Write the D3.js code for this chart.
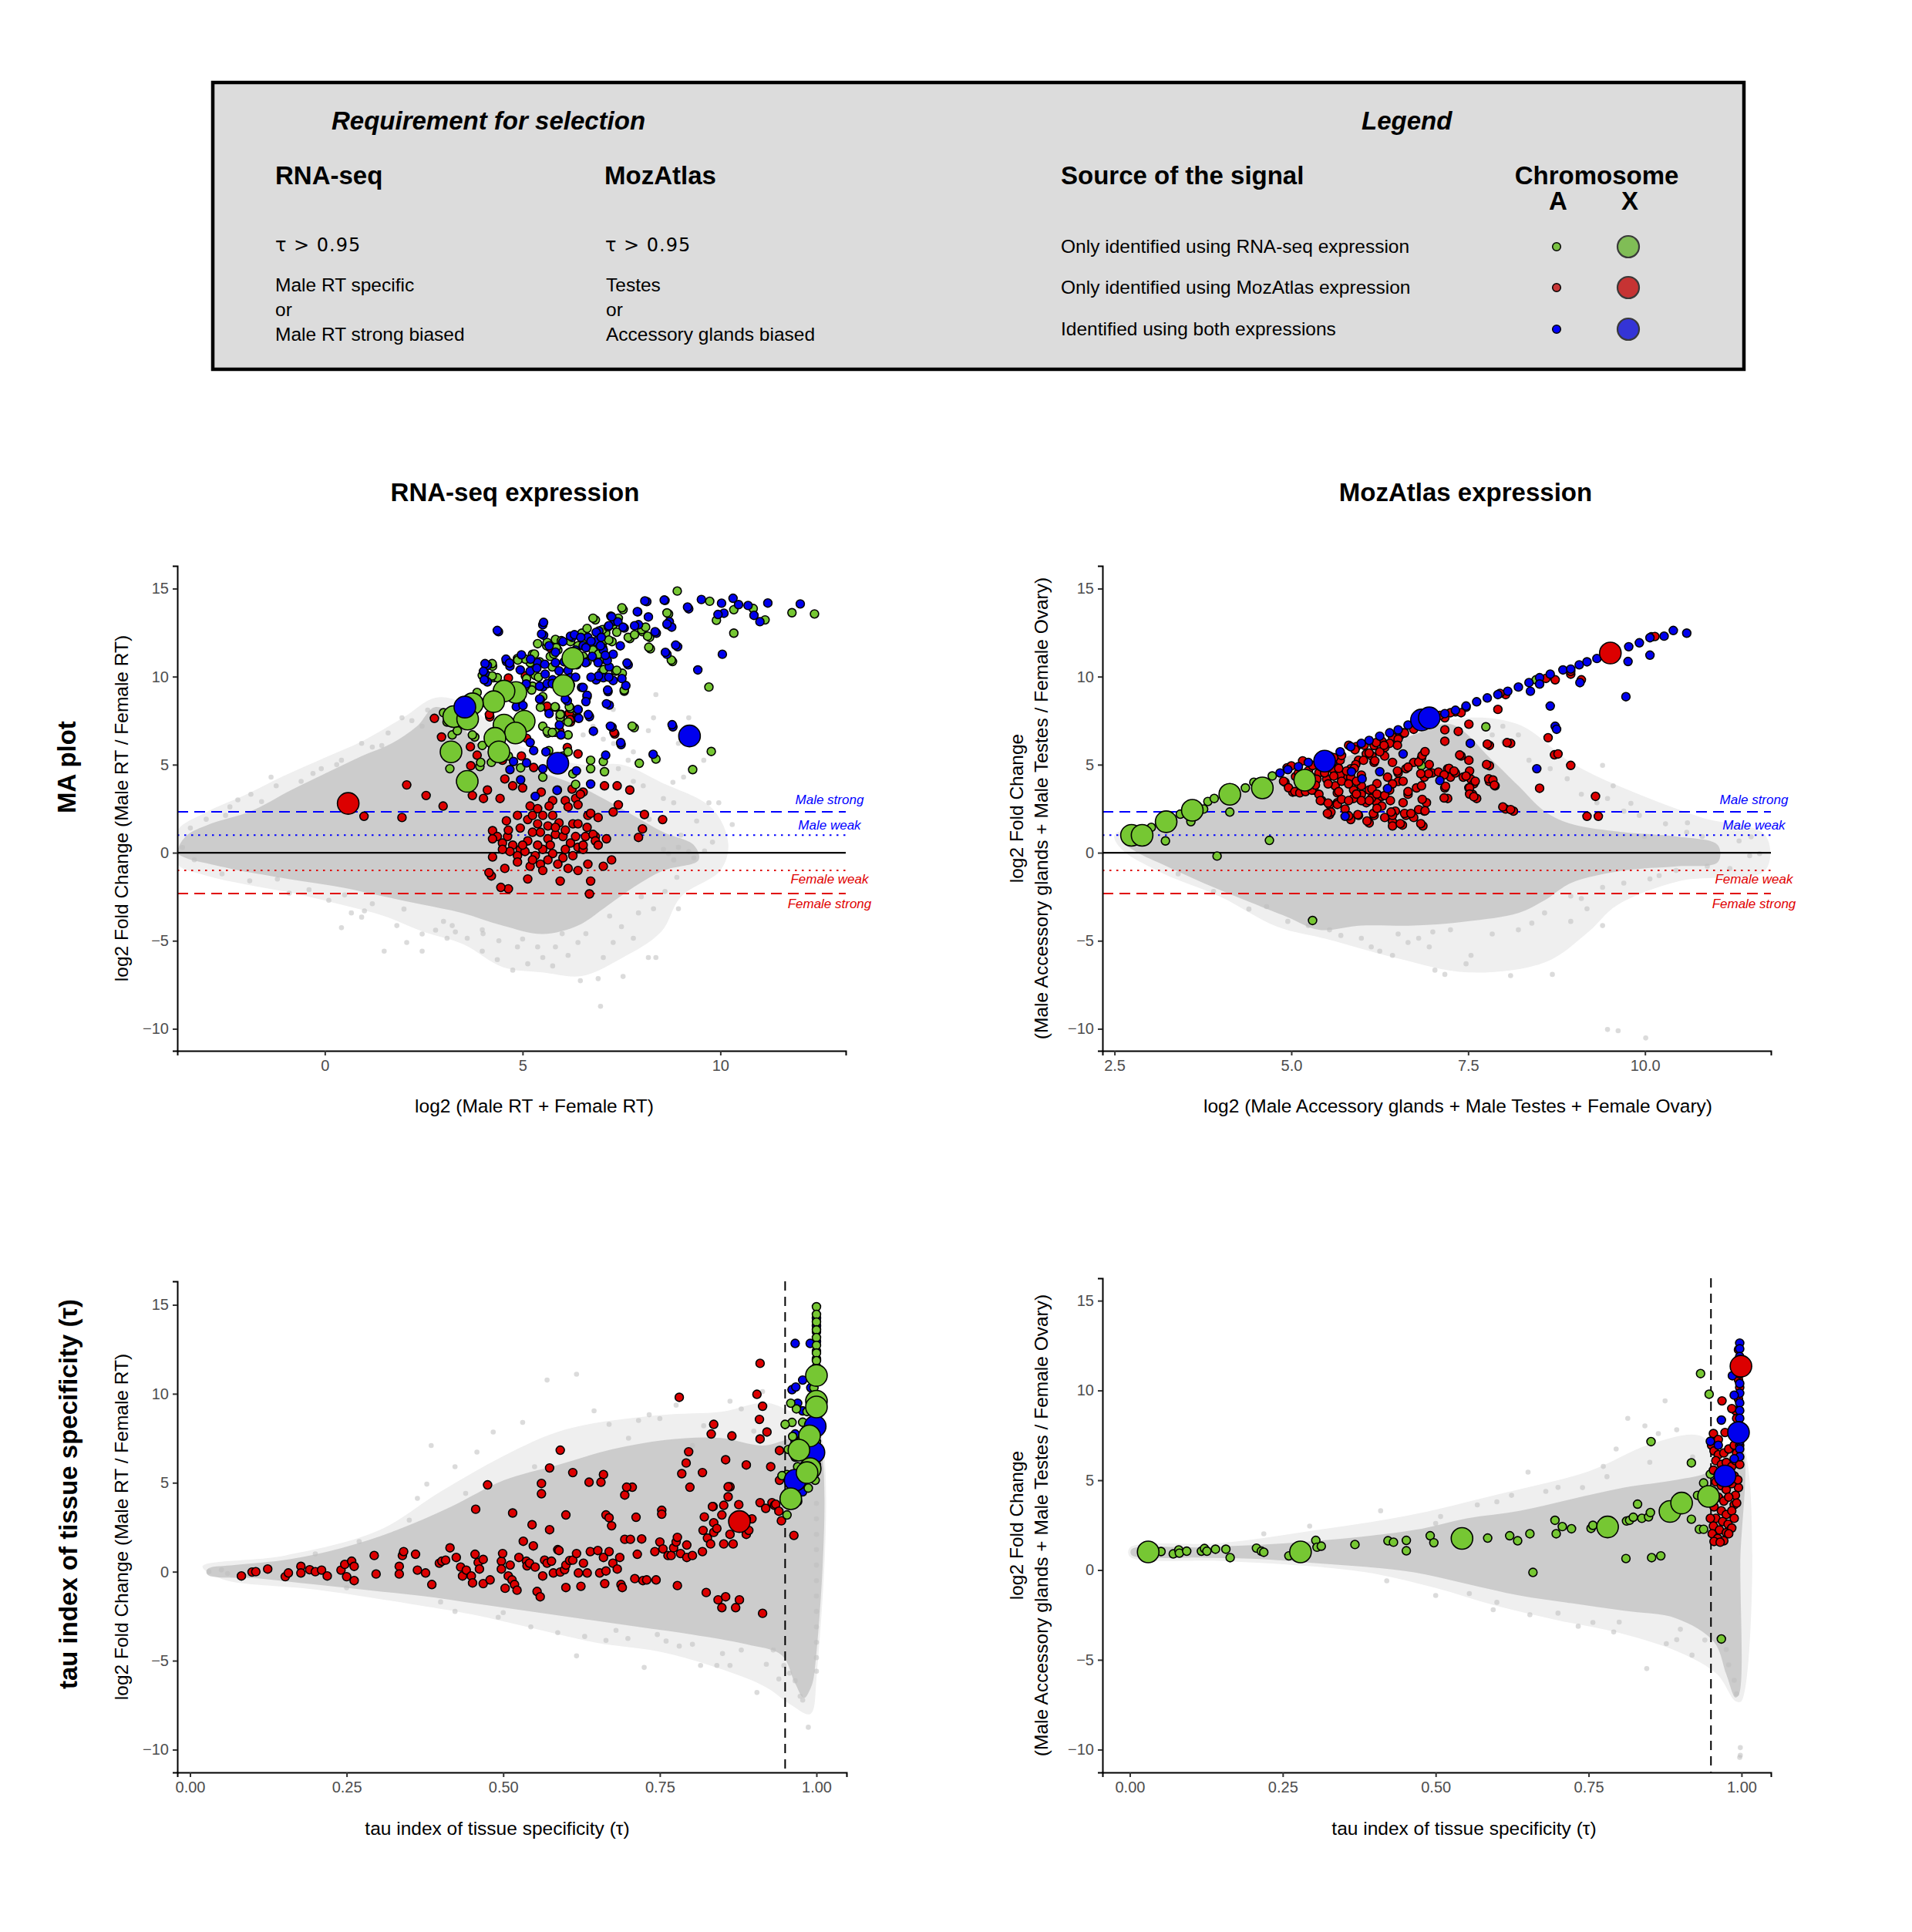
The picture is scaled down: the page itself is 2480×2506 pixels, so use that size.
<!DOCTYPE html>
<html><head><meta charset="utf-8">
<script src="https://cdn.jsdelivr.net/npm/d3@7"></script>
<style>body{margin:0;background:#fff} text{font-family:"Liberation Sans",Arial,Helvetica,sans-serif}</style>
</head><body><svg id="c" width="2480" height="2506"></svg>
<script>
// ---------------- DATA ----------------
const maXTicksRNA = [0,5,10];
const maXTicksMoz = [2.5,5.0,7.5,10.0];
const yTicks = [-10,-5,0,5,10,15];
const tauTicks = [0,0.25,0.5,0.75,1.0];
const biasLines = [
  {v:Math.log2(5), label:"Male strong", color:"#0000ff", dash:"14,8", ly:3.0},
  {v:1, label:"Male weak", color:"#0000ff", dash:"2.5,6.5", ly:1.59},
  {v:-1, label:"Female weak", color:"#e00000", dash:"2.5,6.5", ly:-1.49},
  {v:-Math.log2(5), label:"Female strong", color:"#e00000", dash:"14,8", ly:-2.89}
];
const tauThreshold = 0.95;
const sourceLabels = ["Only identified using RNA-seq expression","Only identified using MozAtlas expression","Identified using both expressions"];

// Panel 1 : MA plot, RNA-seq
const rnaHalo = [[-3.75,-0.6],[-3.75,1.2],[-3.0,2.3],[-2.0,3.3],[-1.0,4.4],[0.0,5.4],[1.0,6.4],[2.0,7.7],[2.8,8.8],[3.5,8.5],[5,6],[6.5,5],[7.5,5],[8.5,4],[9.8,2.5],[10.2,0.5],[10,-1],[9,-2.5],[8.5,-4.5],[7.5,-6],[6.5,-7],[5.5,-6.8],[4.5,-6.5],[3.5,-5.2],[2.5,-4.5],[1.5,-3.6],[0.5,-3.0],[-0.8,-2.3],[-2.0,-1.8],[-3.0,-1.3]];
const rnaCloud = [[-3.72,0],[-3.52,0.92],[-2.89,1.64],[-1.87,2.36],[-0.85,3.56],[0.04,4.53],[0.93,5.49],[1.69,6.21],[2.33,7.18],[2.77,8.26],[3.22,7.9],[3.73,6.45],[4.49,5.25],[5.51,4.53],[6.4,3.8],[7.04,3.08],[7.8,2.12],[8.56,1.16],[9.33,0.43],[9.45,-0.41],[8.56,-1.01],[7.8,-1.97],[7.04,-3.18],[6.4,-4.14],[5.51,-4.62],[4.49,-4.14],[3.47,-3.42],[2.46,-2.94],[1.44,-2.46],[0.42,-1.97],[-0.6,-1.61],[-1.87,-1.13],[-2.89,-0.65],[-3.52,-0.29]];
const rnaGrey = [[0.42,-4.26],[1.5,-5.59],[2.07,-5.1],[2.46,-4.62],[3.22,-4.14],[3.6,-4.86],[3.98,-5.59],[4.36,-6.07],[4.75,-6.67],[5.13,-6.31],[5.51,-5.95],[5.76,-6.43],[6.15,-5.83],[6.46,-7.27],[6.91,-7.15],[7.04,-5.95],[7.54,-7.03],[7.29,-5.1],[7.8,-4.86],[8.18,-5.95],[8.37,-5.95],[8.31,-3.18],[8.94,-3.18],[6.97,-8.72],[5.38,-5.35],[4.87,-5.35],[3.98,-4.38],[3.09,-4.86],[2.46,-5.59],[1.82,-4.14],[0.93,-3.66],[0.67,-3.42],[7.93,-3.42],[6.4,-5.1],[5.83,-5.35],
 [8.37,8.98],[8.31,7.66],[9.2,7.66],[8.18,6.93],[8.94,6.21],[7.8,5.73],[9.58,5.25],[9.07,4.29],[8.05,3.8],[8.56,3.08],[8.82,2.84],[9.71,2.84],[9.96,2.84],[7.42,4.77],[7.8,4.05],[7.04,6.45],[7.67,5.25],[8.44,5.25],[6.53,6.69],[6.78,7.18],[7.29,8.14],[1.95,7.66],[2.46,7.18],[1.44,6.09],[0.93,6.21],[0.42,5.25],[-0.09,4.77],[-0.6,4.05],[-1.23,3.8],[-1.87,3.32],[-2.51,2.12],[-1.36,4.29],
 [8.56,0.19],[8.94,0.31],[9.2,0.07],[9.33,-0.29],[8.82,-0.41],[8.69,-0.05],
 [-3.6,0.3],[-3.3,-0.4],[-3.0,1.9],[-2.4,2.6],[-1.6,2.9],[-1.2,-1.5],[-0.4,-2.1],[0.5,-2.4],[1.2,-2.9],[2.0,-3.2],[3.0,-3.9],[4.0,-4.6],[5.0,-4.9],[6.0,-4.6],[7.2,-3.6],[8.0,-2.5],[8.9,-1.4],[9.6,0.1],[9.0,1.0],[8.2,1.9],[1.2,6.0],[2.2,7.5],[2.6,8.1],[0.3,5.0],
 [-2.6,-1.2],[-1.9,-1.6],[-0.9,-2.3],[0.1,-2.7],[1.0,-3.3],[2.8,-4.4],[4.4,-5.0],[6.6,-4.6],[7.5,-4.2],[8.6,-2.2],[9.8,0.6],[10.3,1.6],[9.4,1.8],[8.8,4.0],[7.3,6.2],[-2.2,3.0],[-0.3,4.5],[1.6,6.8],[-3.4,1.4],[3.3,-4.5]];
const rnaRed = [[2.77,7.63],[2.95,6.57],[3.68,6.02],[3.69,4.94],[4.11,3.56],[4.01,3.08],[3.73,3.25],[3.85,5.54],[4.17,7.71],[4.49,5.25],[4.55,4.19],[4.75,3.8],[5.0,3.68],[4.97,5.49],[5.1,6.5],[5.28,4.84],[5.47,3.44],[5.88,3.56],[6.13,5.97],[6.21,7.42],[6.27,7.66],[6.4,5.61],[7.33,6.74],[7.39,3.8],[7.07,3.8],[7.71,3.56],[6.25,3.61],[6.53,3.44],[6.34,3.08],[5.64,8.19],[5.1,9.58],[5.7,11.63],[2.07,3.85],[2.56,3.25],[2.99,2.65],[1.95,2.0],[0.99,2.07],[4.43,3.08],
 [5.19,2.65],[5.38,2.5],[5.76,2.96],[6.08,2.96],[6.46,3.32],[6.15,2.6],[6.4,2.72],[6.65,2.12],[6.91,2.0],[7.42,2.72],[7.29,2.31],[8.08,2.17],[8.54,1.88],[8.03,1.35],[7.93,0.87],[7.12,0.79],[6.84,0.92],[6.63,1.44],[6.27,1.64],[5.92,1.69],[5.64,1.52],[5.38,1.64],[5.13,1.88],[4.87,2.12],[4.59,1.81],[4.24,1.25],[4.36,0.92],[4.49,0.55],[4.62,0.92],[4.75,0.43],[4.94,0.19],[5.13,0.67],[5.25,1.16],[5.45,1.16],[5.64,0.79],[5.83,1.04],[6.02,0.92],[6.21,0.55],[6.4,0.31],[6.59,0.92],[6.78,1.04],[6.53,0.19],[6.27,-0.17],[6.02,-0.29],[5.76,-0.05],[5.51,0.19],[5.32,-0.17],[5.06,0.07],[4.87,-0.17],[4.68,0.07],[4.49,0.19],[4.24,-0.24],[4.55,-0.89],[4.87,-0.53],[5.19,-0.77],[5.45,-0.65],[5.64,-0.41],[5.89,-0.65],[6.15,-0.89],[6.4,-1.01],[6.65,-0.65],[7.04,-0.77],[7.25,-0.41],[6.72,-1.61],[5.95,-1.61],[5.13,-1.49],[4.64,-2.05],[4.45,-1.97],[4.21,-1.32],[4.15,-1.13],[5.51,-1.01],[5.25,-0.41],[5.0,0.43],[5.38,0.43],[5.7,0.43],[6.08,0.19],[6.34,0.92],[6.53,0.43],[6.84,0.67],[4.24,0.79],[6.69,-2.34],[6.4,1.64],[6.72,2.24],[5.76,2.12],[5.51,2.12],[5.25,2.12],[4.94,1.4],[4.64,1.28],[5.67,2.65],[5.83,1.44],[6.08,1.28],[6.91,0.43],
 [5.69,11.79],[5.07,10.04],[4.64,9.92],[5.62,8.32],[5.98,7.85],[6.18,7.92],[6.2,7.56],[5.94,6.9],[7.31,6.83],[4.16,7.85]];
const rnaGreen = [[8.91,14.86],[9.73,14.28],[10.34,13.8],[10.83,13.87],[11.13,13.22],[11.81,13.63],[12.38,13.56],[9.9,13.2],[10.34,12.47],[9.71,9.41],[9.77,5.75],[9.3,4.72],[8.37,5.32],[7.95,5.08],[7.82,7.1],[7.04,5.18],[7.07,4.6],[6.72,5.25],[6.34,3.88],[6.72,4.77],[6.27,4.48],[6.02,5.49],[5.66,5.8],[5.51,4.29],[5.64,6.79],[5.83,6.84],[6.15,7.42],[8.69,13.56],[8.66,12.95],[8.79,10.86],[8.23,11.58],[8.21,12.23],[8.03,12.55],[7.71,12.16],[7.54,13.8],[7.42,13.32],[7.29,12.95],[7.1,12.47],[7.26,11.99],[7.07,10.98],[7.35,10.31],[7.57,9.17],[7.52,10.19],[6.84,13.22],[7.04,11.99],[7.0,10.26],[6.86,11.03],[6.78,11.51],[6.53,11.15],[6.5,12.47],[6.21,11.99],[5.89,11.51],[5.61,11.75],[5.7,11.15],[5.25,11.27],[5.19,10.79],[5.32,10.07],[5.25,9.46],[5.51,8.86],[5.45,8.26],[5.83,8.26],[6.21,8.19],[6.15,6.69],[6.15,5.73],[4.24,10.59],[4.26,9.94],[3.98,10.07],[3.85,9.1],[4.36,9.94],[3.79,6.57],[3.98,6.09],[4.21,5.13],[3.92,4.89],[3.47,3.8],[3.16,4.77],[3.09,5.49],[3.0,7.95],[3.09,7.42],[3.22,6.69],[3.35,6.93],[3.73,6.69],[3.94,5.13],[4.64,5.49],[4.95,4.82],[5.51,7.18],[6.4,7.66],[5.95,7.66],[4.87,11.03],[5.38,11.87],[5.83,12.11],[6.4,11.75],[6.53,12.11],
 [7.51,13.91],[6.78,13.32],[6.63,12.74],[7.02,12.67],[7.38,12.52],[7.18,12.08],[7.02,11.65],[6.92,11.28],[6.63,10.84],[7.05,10.4],[7.38,10.36],[7.57,9.24],[7.67,12.23],[7.83,12.38],[8.01,12.67],[8.11,12.81],[8.16,12.3],[8.19,11.67],[8.65,13.62],[8.76,10.94],[5.98,12.04],[5.85,11.65],[5.79,11.28],[5.62,11.94],[5.3,11.28],[5.07,10.99],[4.88,10.94],[4.23,10.74],[4.23,10.04],[5.43,10.84],[5.75,10.55],[5.23,9.24],[5.07,9.46],[5.1,9.89],[5.4,9.97],[6.21,9.53],[6.18,8.29],[5.82,8.29],[5.95,7.85],[5.62,6.9],[5.75,6.83],[7.77,7.19]];
const rnaBlue = [[9.52,14.38],[10.03,14.17],[10.32,14.45],[10.7,14.04],[11.2,14.18],[12.02,14.13],[10.46,14.09],[10.09,13.6],[9.94,13.53],[10.85,13.48],[11.0,13.12],[9.2,13.85],[8.6,14.33],[8.14,14.26],[7.91,13.68],[8.71,13.12],[8.77,12.81],[8.38,12.47],[10.05,11.27],[9.43,10.38],[8.92,11.7],[8.65,11.27],[8.8,7.15],[7.49,6.14],[8.3,5.59],[7.26,7.13],[7.19,8.38],[7.16,9.15],[6.69,7.73],[6.63,8.86],[6.4,8.11],[6.42,7.63],[5.93,7.25],[5.97,6.69],[5.28,5.8],[5.59,5.73],[5.51,4.77],[4.77,5.18],[4.68,4.72],[5.1,5.1],[4.95,4.14],[5.32,3.2],[5.87,3.54],[6.72,3.9],[6.36,4.65],[7.1,5.54],[5.19,6.26],[5.67,7.9],[6.13,8.62],[6.49,9.39],[6.86,9.82],[7.04,9.94],[7.29,9.78],[7.61,9.49],[7.19,10.55],[7.67,10.67],[7.47,11.75],[7.29,11.27],[7.04,11.51],[6.84,11.99],[6.65,12.23],[6.93,12.59],[7.16,12.83],[7.32,13.15],[7.23,13.44],[7.57,12.76],[7.93,12.95],[8.18,13.39],[6.53,11.75],[6.34,11.51],[6.25,12.23],[6.02,11.99],[5.83,10.79],[5.51,12.95],[5.53,12.35],[5.67,11.75],[5.38,10.79],[5.19,10.31],[4.94,10.38],[4.68,10.59],[4.59,10.86],[4.11,10.64],[4.05,10.19],[4.11,9.7],[4.94,8.69],[5.45,8.69],[5.09,9.58],[5.51,9.41],[5.76,9.82],[6.15,10.35],[5.83,11.39],[4.39,12.55],[5.57,10.14],[6.21,9.94],[6.37,10.67],[6.59,10.79],[6.91,10.79],[7.14,10.91],[6.76,11.15],[6.97,11.75],
 [4.36,12.62],[5.53,13.08],[5.48,12.42],[4.05,10.74],[4.01,10.3],[4.03,9.82],[4.58,10.99],[4.67,10.77],[4.97,11.24],[5.2,10.99],[5.36,10.48],[5.56,10.7],[5.43,9.46],[5.62,9.6],[5.75,9.6],[5.92,10.33],[6.05,10.84],[6.21,12.3],[6.31,12.38],[6.47,12.23],[6.6,11.65],[6.73,12.01],[6.86,12.52],[6.99,12.23],[7.09,11.21],[7.18,12.89],[7.25,13.4],[7.41,13.11],[7.54,12.81],[7.9,13.69],[8.09,14.3],[8.58,14.35],[8.87,11.79],[8.61,11.38],[9.17,13.95],[8.65,12.99],[8.35,12.55],[7.83,12.89],[7.64,10.77],[7.51,9.89],[7.18,9.97],[6.92,10.04],[6.73,9.97],[6.53,9.38],[6.63,8.94],[6.6,8.58],[7.15,9.24],[7.12,8.46],[6.4,8.14],[6.08,8.73],[5.43,8.73],[4.84,8.29],[5.01,8.36],[6.66,7.85],[6.79,6.9],[7.22,7.19],[7.48,6.25],[8.78,7.27],[6.34,9.97]];
const rnaRedX = [[0.59,2.8]];
const rnaGreenX = [[6.27,11.04],[6.03,9.49],[4.83,9.1],[4.53,9.18],[4.27,8.58],[3.73,8.46],[3.26,7.73],[3.61,7.59],[5.04,7.47],[4.53,7.25],[4.82,6.8],[4.3,6.5],[4.4,5.73],[3.19,5.73],[3.6,4.05]];
const rnaBlueX = [[9.22,6.63],[5.89,5.08],[3.54,8.27]];

// Panel 2 : MA plot, MozAtlas
const mozHalo = [[2.5,1.0],[3.0,1.6],[4.5,4.0],[6,6],[7.3,7.6],[8.2,7.3],[9,5],[9.8,3.5],[10.8,2.0],[11.7,1.0],[11.7,-1.0],[10.5,-1.6],[9.6,-3],[9.2,-4.5],[8.6,-6.2],[7.5,-6.8],[6.5,-6],[5.5,-4.9],[4.8,-4.2],[4.0,-2.5],[3.2,-1.2],[2.6,0.2]];
const mozCloud = [[2.61,0.67],[3.02,1.4],[3.76,2.6],[4.5,3.8],[5.24,4.77],[5.99,5.73],[6.73,6.69],[7.25,7.3],[7.84,5.25],[8.21,3.8],[8.58,2.36],[8.95,1.64],[9.7,1.16],[10.44,0.92],[11.03,0.43],[11.03,-0.53],[10.44,-0.77],[9.7,-1.01],[8.95,-1.73],[8.58,-2.7],[8.21,-3.42],[7.47,-3.9],[6.73,-4.14],[5.99,-4.14],[5.39,-4.38],[4.95,-3.66],[4.35,-2.7],[3.76,-1.73],[3.24,-0.77],[2.8,0.07]];
const mozGrey = [[9.4,4.96],[9.55,3.8],[9.32,2.84],[9.7,2.36],[9.92,2.12],[10.29,1.64],[10.59,1.16],[10.81,0.92],[11.33,0.67],[11.48,-0.17],[11.62,-0.05],[9.99,0.92],[9.47,3.08],[9.1,3.32],[8.66,4.77],[8.36,5.25],[8.21,6.69],[7.99,7.18],[7.84,6.69],
 [6.13,-5.35],[6.25,-5.59],[6.43,-5.83],[6.65,-5.1],[6.95,-5.35],[7.03,-6.67],[7.17,-6.91],[7.47,-6.31],[7.54,-5.83],[8.1,-6.98],[8.69,-6.91],[9.4,-4.14],[9.47,-10.04],[9.62,-10.11],[10.01,-10.52],[9.4,-1.97],[9.18,-3.18],[9.7,-1.73],[8.95,-2.46],[5.54,-4.38],[5.24,-4.14],[4.95,-3.9],[4.65,-3.06],[5.99,-4.86],[6.51,-4.62],[6.8,-4.86],[7.25,-4.38],[7.84,-4.62],[8.21,-4.38],[8.58,-3.42],[8.95,-3.9],[10.07,-1.49],[10.44,-1.01],[10.88,-0.77],
 [3.4,-1.2],[3.9,-2.2],[4.4,-3.2],[5.7,-4.7],[7.0,-4.5],[8.4,-4.0],[9.1,-2.6],[10.2,-1.3],[11.2,-0.9],[11.5,0.9],[10.6,1.7],[9.8,2.8],[8.9,4.2],[8.0,6.3]];
const mozRed = [[4.95,4.77],[5.06,4.33],[5.17,4.09],[5.28,4.29],[5.39,4.53],[5.5,4.17],[5.62,3.8],[5.73,4.29],[5.84,4.77],[5.95,5.25],[6.06,5.61],[6.17,6.09],[6.28,6.33],[6.43,6.57],[6.54,6.69],[4.91,4.0],[5.02,3.44],[5.17,3.52],[5.32,3.56],[5.43,2.96],[5.54,2.72],[5.65,2.84],[5.76,2.48],[5.88,3.08],[5.99,3.32],[6.1,3.56],[6.21,3.92],[6.36,4.29],[6.51,4.53],[6.62,4.77],[6.73,5.13],[6.84,5.37],[6.95,5.01],[6.99,4.53],[6.88,4.29],[6.77,3.68],[6.65,3.32],[6.58,2.84],[6.47,2.36],[6.43,1.76],[6.32,2.0],[6.21,2.84],[6.06,2.84],[5.95,2.12],[5.84,1.88],[6.1,1.69],[6.17,2.12],[5.54,2.17],[5.65,3.4],[5.69,4.41],[5.99,4.41],[6.17,5.13],[6.32,5.49],[6.43,5.13],[6.51,4.05],[6.39,3.56],[6.28,3.2],[6.13,3.08],[5.99,3.8],[5.88,3.56],[5.84,4.29],[5.58,4.77],[5.36,5.01],[5.24,3.8],[5.39,3.32],[6.84,3.8],[6.91,2.84],[6.88,2.36],[6.73,2.0],[6.62,2.12],[6.43,2.12],[6.28,2.65],[6.86,1.52],[6.57,1.57],[6.43,1.52],[7.08,4.58],[7.21,4.77],[7.25,4.29],[7.17,3.68],[7.21,3.08],[7.32,4.53],[7.43,4.29],[7.54,4.17],[7.51,3.68],[7.56,3.32],[7.62,3.08],[7.58,3.92],[7.8,4.05],[7.88,3.8],[7.8,4.94],[7.8,6.09],[8.1,6.21],[7.92,8.14],[7.51,7.3],[7.36,6.89],[7.17,6.33],[7.17,7.66],[7.4,5.49],[7.17,6.98],[7.32,8.0],[7.1,7.8],[8.63,6.53],[8.72,5.56],[8.77,5.61],[8.95,4.96],[9.3,3.2],[9.18,2.07],[9.34,2.07],[8.03,2.48],[8.14,2.36],[8.51,3.66],[7.51,5.25],[8.73,9.82],[9.1,9.82],[8.95,10.14],[10.09,12.26],[10.14,12.28],[8.03,8.98],[7.95,9.05],[7.47,8.26],[7.25,7.95],[7.03,7.66],[6.84,7.25],[6.73,7.01],[6.58,6.81],[6.51,6.45],[6.39,6.21],[6.32,5.97],[6.25,5.73],[6.14,5.49],[6.02,5.25],[5.91,5.01],[5.69,5.25],[5.58,5.13],[5.47,4.53],[5.36,4.17],[5.24,4.65],[5.1,4.53],
 [4.94,4.82],[4.89,4.06],[4.96,3.69],[5.05,3.47],[5.12,3.4],[5.2,3.47],[5.29,3.55],[5.34,3.84],[5.41,2.96],[5.52,2.82],[5.65,2.74],[5.56,2.31],[5.71,3.03],[5.81,2.96],[5.92,3.33],[5.99,2.96],[6.1,2.96],[6.14,3.62],[6.21,3.33],[6.18,5.22],[6.1,5.66],[6.03,6.1],[5.92,6.03],[5.81,6.1],[5.71,5.52],[5.6,4.35],[5.71,4.06],[5.81,3.91],[5.92,4.06],[5.89,4.79],[5.78,4.64],[5.67,4.79],[5.52,3.91],[5.67,3.47],[6.32,3.25],[6.4,2.96],[6.41,2.31],[6.54,1.65],[6.6,2.23],[6.69,2.23],[6.8,2.45],[6.89,2.38],[6.83,1.65],[6.85,3.03],[6.65,3.47],[6.58,4.06],[6.43,3.91],[6.5,4.64],[6.65,4.86],[6.8,5.15],[6.85,5.52],[6.89,5.74],[6.94,4.49],[6.83,4.49],[7.23,4.79],[7.16,4.42],[7.18,3.77],[7.16,3.11],[7.3,4.64],[7.38,5.55],[7.52,4.64],[7.47,4.35],[7.6,4.06],[7.52,3.69],[7.52,3.33],[7.58,3.18],[7.79,4.2],[7.85,4.13],[7.87,3.84],[7.76,5.01],[7.99,2.6],[8.1,2.45],[7.77,6.17],[8.05,6.25],[5.51,2.23],[5.81,2.09],[6.07,1.8],[6.16,2.23],[5.94,2.16],[6.21,2.52],[6.31,6.1],[6.5,6.1],[5.45,5.15],[5.16,5.22],[5.0,4.93],
 [5.3,4.95],[5.6,5.4],[5.9,5.85],[6.2,6.25],[6.6,6.8],[7.0,7.4],[7.4,7.95],[8.6,9.9],[8.95,10.3]];
const mozGreen = [[3.02,1.44],[3.24,1.69],[3.43,2.19],[3.58,1.76],[3.76,2.48],[3.82,2.91],[3.91,3.08],[4.13,2.31],[4.35,3.68],[4.47,4.0],[4.73,4.36],[3.22,0.67],[4.69,0.7],[3.95,-0.19],[5.3,-3.85],[7.75,7.15],[8.46,9.82],[6.84,4.94]];
const mozBlue = [[4.84,4.53],[4.95,4.72],[5.1,4.89],[5.24,5.13],[5.54,5.49],[5.69,5.73],[5.84,6.02],[5.99,6.21],[6.1,6.38],[6.25,6.62],[6.39,6.81],[6.51,6.98],[6.65,7.25],[6.8,7.46],[7.03,7.71],[7.17,7.9],[7.32,8.09],[7.47,8.33],[7.62,8.57],[7.77,8.79],[7.92,8.98],[8.06,9.17],[8.21,9.41],[8.36,9.66],[8.51,9.94],[8.66,10.14],[8.84,10.38],[8.95,10.43],[9.07,10.67],[9.18,10.84],[9.32,11.03],[9.55,11.39],[9.77,11.7],[9.92,11.92],[10.07,12.21],[10.27,12.3],[10.4,12.62],[10.59,12.47],[8.51,9.58],[8.38,9.17],[9.08,9.66],[8.66,8.33],[8.73,7.18],[8.75,7.01],[9.73,8.86],[10.07,11.22],[9.76,10.86],[7.53,6.21],[6.58,5.61],[6.36,3.64],[8.47,4.77],[5.76,2.07],[5.85,4.6],[6.0,4.2],[6.25,4.6],[7.1,4.1]];
const mozRedX = [[9.51,11.34]];
const mozGreenX = [[2.74,0.99],[2.89,0.99],[3.23,1.76],[3.6,2.41],[4.13,3.32],[4.59,3.68],[5.19,4.12]];
const mozBlueX = [[5.47,5.2],[6.84,7.54],[6.95,7.66]];

// Panel 3 : tau vs log2FC, RNA-seq
const tauRnaHalo = [[0.02,0.3],[0.15,0.9],[0.3,2.3],[0.4,4.5],[0.5,6.5],[0.6,8.0],[0.75,8.8],[0.85,9.0],[0.92,9.5],[0.96,9.0],[1.0,8.5],[1.0,-6],[0.99,-8],[0.96,-7.5],[0.92,-6.5],[0.85,-5.5],[0.75,-4.5],[0.65,-4.0],[0.55,-3.2],[0.45,-2.4],[0.35,-1.8],[0.2,-1.0],[0.05,-0.4]];
const tauRnaCloud = [[0.028,0.15],[0.071,0.37],[0.157,0.69],[0.243,1.34],[0.329,2.32],[0.415,3.62],[0.501,5.14],[0.587,6.0],[0.673,6.87],[0.759,7.41],[0.845,7.52],[0.914,7.09],[0.95,7.4],[0.997,8.0],[0.997,-5.6],[0.99,-6.6],[0.98,-7.1],[0.965,-6.2],[0.945,-4.7],[0.888,-4.08],[0.802,-3.53],[0.716,-3.1],[0.63,-2.67],[0.544,-2.23],[0.458,-1.8],[0.372,-1.37],[0.286,-1.04],[0.2,-0.72],[0.114,-0.39],[0.028,-0.17]];
const tauRnaGrey = [[0.385,7.09],[0.484,7.85],[0.531,8.39],[0.57,10.77],[0.617,11.1],[0.645,9.04],[0.669,8.28],[0.716,8.5],[0.733,8.82],[0.75,8.61],[0.776,9.36],[0.862,9.58],[0.88,9.15],[0.914,10.12],[0.802,7.09],[0.458,6.72],[0.423,5.9],[0.378,4.92],[0.363,4.12],
 [0.617,-4.73],[0.63,-3.64],[0.664,-3.86],[0.699,-3.75],[0.725,-5.38],[0.746,-3.53],[0.781,-4.18],[0.802,-4.08],[0.815,-5.27],[0.841,-5.27],[0.862,-5.27],[0.905,-6.79],[0.94,-6.03],[0.966,-6.13],[0.974,-7.0],[0.978,-7.22],[0.987,-8.74],[0.957,-5.7],[0.948,-5.27],[0.931,-4.4],[0.88,-4.4],[0.544,-3.1],[0.587,-3.43],[0.492,-2.56],[0.423,-2.23],
 [1.0,3.84],[1.0,2.97],[1.0,2.1],[1.0,1.24],[1.0,0.37],[1.0,-0.5],[1.0,-1.37],[1.0,-2.23],[1.0,-3.1],[1.0,-3.97],[1.0,-4.83],[1.0,-5.59],[0.03,0.0],[0.05,0.1],[0.06,-0.1],
 [0.2,1.0],[0.27,1.7],[0.35,2.9],[0.44,4.4],[0.55,5.9],[0.7,7.5],[0.82,8.2],[0.9,7.9],[0.25,-0.9],[0.4,-1.7],[0.5,-2.3],[0.68,-3.3],[0.76,-3.9],[0.85,-4.6],[0.92,-5.2]];
const tauRnaRed = [[0.082,-0.24],[0.099,-0.02],[0.105,0],[0.124,0.15],[0.152,-0.28],[0.157,-0.07],[0.177,0.3],[0.177,-0.07],[0.191,0.11],[0.2,0],[0.21,0.09],[0.219,-0.24],[0.241,0.09],[0.247,0.41],[0.25,-0.28],[0.258,0.59],[0.262,0.3],[0.262,-0.5],[0.294,0.91],[0.297,-0.13],[0.334,0.3],[0.334,-0.13],[0.339,0.91],[0.341,1.13],[0.36,0.98],[0.363,0.09],[0.376,-0.07],[0.386,-0.72],[0.398,0.48],[0.402,0.59],[0.408,0.65],[0.415,1.34],[0.425,0.8],[0.432,0.26],[0.435,-0.24],[0.441,0.09],[0.449,-0.24],[0.451,-0.63],[0.455,0.98],[0.46,0.52],[0.462,0.15],[0.468,0.69],[0.468,-0.67],[0.479,-0.46],[0.497,0.59],[0.497,0.15],[0.499,1.02],[0.503,-0.93],[0.508,-0.24],[0.511,0.37],[0.514,-0.46],[0.518,-0.72],[0.522,-1.04],[0.525,0.8],[0.532,1.71],[0.537,0.59],[0.538,0.33],[0.542,0.48],[0.548,1.45],[0.551,0.26],[0.554,-1.11],[0.559,-1.41],[0.563,-0.24],[0.566,0.65],[0.57,0.48],[0.577,0.59],[0.58,-0.07],[0.587,1.24],[0.589,1.19],[0.591,-0.02],[0.598,0.11],[0.6,0.37],[0.6,-0.89],[0.606,0.63],[0.611,0.65],[0.617,1.02],[0.62,-0.07],[0.624,-0.82],[0.628,0.48],[0.634,-0.07],[0.639,1.13],[0.651,1.19],[0.654,-0.07],[0.66,0.8],[0.662,-0.67],[0.664,0.04],[0.669,1.13],[0.675,0.48],[0.682,0.15],[0.686,0.8],[0.688,-0.72],[0.69,-0.89],[0.694,1.82],[0.703,1.82],[0.71,-0.39],[0.714,0.98],[0.721,1.84],[0.723,-0.5],[0.729,-0.46],[0.742,1.13],[0.744,-0.46],[0.75,1.67],[0.755,1.28],[0.763,0.91],[0.768,0.91],[0.772,1.34],[0.776,1.67],[0.778,1.93],[0.778,-0.78],[0.783,1.02],[0.793,0.8],[0.793,1.5],[0.802,0.91],[0.818,1.13],[0.819,2.32],[0.821,3.08],[0.824,-1.17],[0.826,1.89],[0.831,1.56],[0.836,2.21],[0.836,2.75],[0.843,-1.58],[0.849,-2.02],[0.852,1.56],[0.855,-1.41],[0.862,2.1],[0.871,-2.02],[0.877,-1.58],[0.888,2.1],[0.892,2.32],[0.897,2.97],[0.914,-2.34],[0.867,1.56],[0.841,2.43],[0.835,3.66],[0.849,3.19],[0.852,3.73],[0.859,4.21],[0.862,4.77],[0.876,3.77],[0.888,2.97],[0.91,3.88],[0.919,3.56],[0.929,3.88],[0.933,3.73],[0.935,3.79],[0.94,3.4],[0.944,2.86],[0.964,2.04],[0.91,11.71],[0.905,9.97],[0.914,9.3],[0.921,7.85],[0.909,8.56],[0.91,7.46],[0.888,6.0],[0.927,5.9],[0.941,5.14],[0.941,6.81],[0.798,4.75],[0.792,6.11],[0.796,6.74],[0.785,5.51],[0.818,5.57],[0.832,7.74],[0.836,8.28],[0.865,7.63],[0.855,6.29],[0.859,4.77],[0.834,3.66],[0.781,9.8],[0.753,3.45],[0.706,4.75],[0.694,4.31],[0.66,5.46],[0.656,5.03],[0.637,5.03],[0.611,5.57],[0.6,3.19],[0.574,5.83],[0.574,2.36],[0.591,6.83],[0.561,4.96],[0.561,4.38],[0.546,2.64],[0.515,3.3],[0.664,3.19],[0.673,2.58],[0.669,3.03],[0.712,3.06],[0.697,4.75],[0.475,4.88],[0.456,3.51],[0.753,3.23]];
const tauRnaGreen = [[1.0,14.89],[1.0,14.46],[1.0,14.03],[1.0,13.59],[1.0,13.16],[1.0,12.72],[1.0,12.29],[1.0,11.86],[1.0,11.42],[0.996,10.77],[0.968,9.15],[0.959,9.47],[0.961,8.39],[0.955,6.87],[0.953,5.46],[0.953,3.19],[0.957,4.27],[0.966,6.44],[0.974,7.31],[0.983,7.96],[0.991,9.69],[0.996,10.34],[0.987,4.7],[0.991,5.57],[0.95,8.28],[0.945,5.4],[1.0,8.6],[1.0,7.31],[1.0,6.0],[0.998,5.14],[0.978,8.4],[0.985,9.0],[0.97,5.9],[0.962,7.6]];
const tauRnaBlue = [[1.0,14.24],[1.0,13.81],[1.0,13.48],[1.0,12.94],[1.0,12.4],[1.0,11.97],[1.0,11.53],[0.99,12.83],[0.966,12.83],[0.961,10.23],[0.967,10.38],[0.966,7.31],[0.966,7.74],[0.957,5.14],[0.97,3.95],[0.978,4.49],[0.987,6.87],[0.978,9.04],[0.97,9.47],[0.978,10.77],[0.991,10.34]];
const tauRnaRedX = [[0.877,2.82]];
const tauRnaGreenX = [[1.0,11.03],[1.0,9.58],[1.0,9.26],[0.989,7.63],[0.972,6.83],[0.99,5.79],[0.985,5.57],[0.959,4.1]];
const tauRnaBlueX = [[0.998,8.17],[0.996,6.7],[0.966,5.14]];

// Panel 4 : tau vs log2FC, MozAtlas
const tauMozHalo = [[0.0,1.25],[0.15,1.5],[0.3,2.2],[0.45,3.0],[0.6,4.2],[0.75,5.5],[0.85,7.0],[0.93,7.5],[0.97,6.5],[1.0,7],[1.0,-7.3],[0.99,-7.3],[0.96,-5.8],[0.9,-4.6],[0.8,-3.5],[0.7,-2.8],[0.6,-2.0],[0.5,-1.0],[0.4,-0.2],[0.3,0.2],[0.15,0.5],[0.0,0.75]];
const tauMozCloud = [[0.003,1.16],[0.123,1.27],[0.294,1.59],[0.465,2.23],[0.551,2.88],[0.637,3.3],[0.722,3.95],[0.808,4.59],[0.894,5.02],[0.945,5.45],[0.998,6.95],[0.998,0.3],[0.996,-6.9],[0.99,-7.1],[0.975,-5.8],[0.955,-4.0],[0.894,-2.7],[0.808,-2.27],[0.722,-1.85],[0.637,-1.42],[0.551,-0.77],[0.465,-0.13],[0.38,0.19],[0.294,0.41],[0.208,0.62],[0.123,0.69],[0.003,0.84]];
const tauMozGrey = [[0.875,9.42],[0.814,8.45],[0.842,8.03],[0.864,7.6],[0.894,7.81],[0.795,6.74],[0.774,5.77],[0.74,4.59],[0.651,5.45],[0.68,4.38],[0.624,4.16],[0.568,3.63],[0.508,2.98],[0.41,3.3],[0.294,2.45],[0.219,2.02],
 [0.845,-5.49],[0.919,-4.74],[0.733,-3.13],[0.757,-2.92],[0.791,-3.45],[0.654,-2.49],[0.594,-2.21],[0.5,-1.42],[0.555,-1.31],[0.877,-4.1],[0.894,-3.88],[0.979,-5.28],[0.988,-6.14],[0.992,-6.89],[0.998,-9.89],[0.998,-10.32],[0.997,-10.43],[0.975,-4.42],
 [0.7,4.6],[0.78,5.2],[0.85,6.0],[0.92,6.3],[0.6,3.8],[0.5,2.6],[0.42,-0.6],[0.6,-1.8],[0.7,-2.4],[0.8,-2.9],[0.9,-3.3],[0.94,-3.9]];
const tauMozRed = [[0.951,6.95],[0.955,6.63],[0.962,6.42],[0.971,6.52],[0.979,6.74],[0.988,6.95],[0.992,6.52],[0.958,6.09],[0.967,5.88],[0.975,5.99],[0.984,5.77],[0.99,6.09],[0.954,5.56],[0.962,5.34],[0.979,5.45],[0.988,5.24],[0.995,4.59],[0.958,4.91],[0.967,4.7],[0.975,4.48],[0.984,4.81],[0.99,4.16],[0.954,4.38],[0.962,4.06],[0.971,3.84],[0.979,4.06],[0.988,3.63],[0.955,3.52],[0.967,3.3],[0.975,3.09],[0.984,3.3],[0.958,2.88],[0.969,2.7],[0.978,2.55],[0.954,2.45],[0.964,2.23],[0.975,2.08],[0.984,2.34],[0.952,2.02],[0.961,1.76],[0.971,1.63],[0.955,1.59],[0.965,1.55],[0.949,2.88],[0.949,3.95],[0.979,2.02],[0.988,2.88],[0.992,3.73],[0.994,5.02],[0.997,5.88],[0.997,6.95],[0.995,7.6],[0.992,8.45],[0.995,9.53],[0.997,10.17],[0.995,10.6],[0.99,8.88],[0.968,9.42],[0.984,8.99],[0.973,7.66],[0.995,12.27],[0.954,7.6],[0.962,7.27]];
const tauMozGreen = [[0.051,1.03],[0.071,0.9],[0.08,1.12],[0.081,0.94],[0.093,1.05],[0.117,1.05],[0.122,1.2],[0.126,1.05],[0.14,1.16],[0.157,1.16],[0.164,0.69],[0.207,1.22],[0.215,1.05],[0.219,0.99],[0.26,0.79],[0.304,1.65],[0.306,1.27],[0.313,1.33],[0.368,1.42],[0.422,1.63],[0.431,1.55],[0.452,1.65],[0.452,1.07],[0.491,1.91],[0.497,1.52],[0.585,1.78],[0.621,1.91],[0.634,1.63],[0.654,2.02],[0.695,2.77],[0.697,2.02],[0.707,2.42],[0.722,2.3],[0.754,2.32],[0.757,2.49],[0.812,2.73],[0.817,2.77],[0.823,2.94],[0.83,3.67],[0.837,2.88],[0.848,2.96],[0.851,3.2],[0.918,2.83],[0.931,2.27],[0.938,2.27],[0.918,5.97],[0.933,10.94],[0.947,9.79],[0.852,7.15],[0.811,0.64],[0.853,0.69],[0.868,0.79],[0.659,-0.13],[0.967,-3.84],[0.938,4.85],[0.949,5.34],[0.928,4.16]];
const tauMozBlue = [[0.997,12.64],[0.997,12.32],[0.997,11.89],[0.997,11.46],[0.997,10.92],[0.997,10.39],[0.997,9.85],[0.997,9.31],[0.997,8.88],[0.997,8.45],[0.997,8.03],[0.997,7.17],[0.997,6.74],[0.997,6.31],[0.967,8.35],[0.962,6.95],[0.949,7.17],[0.985,10.82],[0.988,6.2],[0.988,9.74],[0.965,5.11]];
const tauMozRedX = [[0.999,11.35]];
const tauMozGreenX = [[0.03,1.01],[0.279,1.01],[0.543,1.76],[0.781,2.4],[0.883,3.26],[0.902,3.73],[0.946,4.1]];
const tauMozBlueX = [[0.995,7.66],[0.973,5.24]];

// ---------------- DRAWING ----------------
const COL = {green:"#76c733", red:"#dc0000", blue:"#0000ee"};
const svg = d3.select("#c");
svg.append("rect").attr("width",2480).attr("height",2506).attr("fill","#fff");

// ---- legend box ----
const L = svg.append("g");
L.append("rect").attr("x",276).attr("y",107).attr("width",1986).attr("height",372)
  .attr("fill","#dcdcdc").attr("stroke","#000").attr("stroke-width",4.5);
function txt(g,x,y,s,opt){
  const t=g.append("text").attr("x",x).attr("y",y).text(s)
    .attr("font-size",opt.size||24.5).attr("fill",opt.fill||"#000");
  if(opt.bold) t.attr("font-weight","bold");
  if(opt.italic) t.attr("font-style","italic");
  if(opt.anchor) t.attr("text-anchor",opt.anchor);
  if(opt.family) t.style("font-family",opt.family);
  if(opt.ls) t.attr("letter-spacing",opt.ls);
  return t;
}
txt(L,430,168,"Requirement for selection",{size:33,bold:true,italic:true});
txt(L,1766,168,"Legend",{size:33,bold:true,italic:true});
txt(L,357,239,"RNA-seq",{size:33,bold:true});
txt(L,784,239,"MozAtlas",{size:33,bold:true});
txt(L,1376,239,"Source of the signal",{size:33,bold:true});
txt(L,2071,239,"Chromosome",{size:33,bold:true,anchor:"middle"});
txt(L,2021,272,"A",{size:33,bold:true,anchor:"middle"});
txt(L,2114,272,"X",{size:33,bold:true,anchor:"middle"});
txt(L,357,326,"τ > 0.95",{size:24,family:"'DejaVu Sans',sans-serif",ls:1});
txt(L,785,326,"τ > 0.95",{size:24,family:"'DejaVu Sans',sans-serif",ls:1});
txt(L,357,378,"Male RT specific",{});
txt(L,357,410,"or",{});
txt(L,357,442,"Male RT strong biased",{});
txt(L,786,378,"Testes",{});
txt(L,786,410,"or",{});
txt(L,786,442,"Accessory glands biased",{});
const legRowsY=[320,373,427];
const legSmall=["#7ac143","#c83737","#0000ff"];
const legLarge=["#80bd56","#c63333","#3434d6"];
sourceLabels.forEach((s,i)=>{
  txt(L,1376,legRowsY[i]+8,s,{});
  L.append("circle").attr("cx",2019).attr("cy",legRowsY[i]).attr("r",5.3).attr("fill",legSmall[i]).attr("stroke","#000").attr("stroke-width",1.5);
  L.append("circle").attr("cx",2112).attr("cy",legRowsY[i]).attr("r",14).attr("fill",legLarge[i]).attr("stroke","#3a3a3a").attr("stroke-width",2.2);
});

// ---- panels ----
function panel(c){
  const x=d3.scaleLinear().domain(c.xd).range([c.x0,c.x1]);
  const y=d3.scaleLinear().domain(c.yd).range([c.y1,c.y0]);
  const g=svg.append("g");
  g.append("clipPath").attr("id",c.id).append("rect")
    .attr("x",c.x0).attr("y",c.y0).attr("width",c.x1-c.x0).attr("height",c.y1-c.y0);
  const bg=g.append("g").attr("clip-path",`url(#${c.id})`);
  const shape=d3.line().x(d=>x(d[0])).y(d=>y(d[1])).curve(d3.curveCatmullRomClosed.alpha(0.5));
  bg.append("path").datum(c.halo).attr("d",shape).attr("fill","#efefef");
  bg.append("path").datum(c.cloud).attr("d",shape).attr("fill","#c6c6c6").attr("fill-opacity",0.85);
  bg.selectAll(null).data(c.grey).enter().append("circle")
    .attr("cx",d=>x(d[0])).attr("cy",d=>y(d[1])).attr("r",3.3)
    .attr("fill","#bdbdbd").attr("fill-opacity",0.55);
  if(c.ma){
    biasLines.forEach(b=>{
      g.append("line").attr("x1",c.x0).attr("x2",c.x1).attr("y1",y(b.v)).attr("y2",y(b.v))
        .attr("stroke",b.color).attr("stroke-width",2).attr("stroke-dasharray",b.dash);
      g.append("text").attr("x",x(c.labX)).attr("y",y(b.ly)).attr("dy","0.35em")
        .attr("text-anchor","middle").attr("font-size",17).attr("font-style","italic")
        .attr("fill",b.color).text(b.label);
    });
    g.append("line").attr("x1",c.x0).attr("x2",c.x1).attr("y1",y(0)).attr("y2",y(0))
      .attr("stroke","#000").attr("stroke-width",2.2);
  } else {
    g.append("line").attr("x1",x(tauThreshold)).attr("x2",x(tauThreshold)).attr("y1",c.y0).attr("y2",c.y1)
      .attr("stroke","#000").attr("stroke-width",2).attr("stroke-dasharray","12,8");
  }
  const pts=(data,r,fill)=>g.selectAll(null).data(data).enter().append("circle")
    .attr("cx",d=>x(d[0])).attr("cy",d=>y(d[1])).attr("r",r)
    .attr("fill",fill).attr("stroke","#000").attr("stroke-width",1.6);
  c.order.forEach(k=>pts(c.pts[k],5.4,COL[k]));
  c.order.forEach(k=>pts(c.ptsX[k],14,COL[k]));
  // axes
  const ax=g.append("g").attr("transform",`translate(0,${c.y1})`)
    .call(d3.axisBottom(x).tickValues(c.xt).tickFormat(c.xf).tickSizeOuter(0).tickSize(6).tickPadding(6));
  const ay=g.append("g").attr("transform",`translate(${c.x0},0)`)
    .call(d3.axisLeft(y).tickValues(yTicks).tickFormat(d3.format("d")).tickSizeOuter(0).tickSize(6).tickPadding(5));
  [ax,ay].forEach(a=>{
    a.select(".domain").attr("stroke","#000").attr("stroke-width",2);
    a.selectAll(".tick line").attr("stroke","#333").attr("stroke-width",2);
    a.selectAll(".tick text").attr("font-size",20).attr("fill","#4d4d4d")
      .style("font-family","'Liberation Sans',Arial,sans-serif");
  });
  // titles
  if(c.title) txt(svg,c.titleX,650,c.title,{size:33,bold:true,anchor:"middle"});
  txt(svg,c.xlabX,c.xlabY,c.xlab,{size:24.5,anchor:"middle"});
  const cy=(c.y0+c.y1)/2;
  c.ylab.forEach((s,i)=>{
    svg.append("text").attr("transform",`translate(${c.ylabX[i]},${cy}) rotate(-90)`)
      .attr("text-anchor","middle").attr("dy","0.35em").attr("font-size",24.5).text(s);
  });
}
const fmtTau=d3.format(".2f");
panel({id:"cp1",x0:230,x1:1097,y0:734,y1:1363,xd:[-3.73,13.17],yd:[-11.25,16.29],ma:true,labX:12.76,
  halo:rnaHalo,cloud:rnaCloud,grey:rnaGrey,order:["red","green","blue"],
  pts:{red:rnaRed,green:rnaGreen,blue:rnaBlue},ptsX:{red:rnaRedX,green:rnaGreenX,blue:rnaBlueX},
  xt:maXTicksRNA,xf:d3.format("d"),title:"RNA-seq expression",titleX:668,
  xlab:"log2 (Male RT + Female RT)",xlabX:693,xlabY:1443,
  ylab:["log2 Fold Change (Male RT / Female RT)"],ylabX:[157]});
panel({id:"cp2",x0:1430,x1:2297,y0:734,y1:1363,xd:[2.33,11.78],yd:[-11.25,16.29],ma:true,labX:11.54,
  halo:mozHalo,cloud:mozCloud,grey:mozGrey,order:["green","red","blue"],
  pts:{red:mozRed,green:mozGreen,blue:mozBlue},ptsX:{red:mozRedX,green:mozGreenX,blue:mozBlueX},
  xt:maXTicksMoz,xf:d3.format(".1f"),title:"MozAtlas expression",titleX:1901,
  xlab:"log2 (Male Accessory glands + Male Testes + Female Ovary)",xlabX:1891,xlabY:1443,
  ylab:["log2 Fold Change","(Male Accessory glands + Male Testes / Female Ovary)"],ylabX:[1318,1350]});
panel({id:"cp3",x0:230,x1:1098,y0:1662,y1:2299,xd:[-0.0203,1.048],yd:[-11.28,16.32],ma:false,
  halo:tauRnaHalo,cloud:tauRnaCloud,grey:tauRnaGrey,order:["red","blue","green"],
  pts:{red:tauRnaRed,green:tauRnaGreen,blue:tauRnaBlue},ptsX:{red:tauRnaRedX,green:tauRnaGreenX,blue:tauRnaBlueX},
  xt:tauTicks,xf:fmtTau,title:null,
  xlab:"tau index of tissue specificity (τ)",xlabX:645,xlabY:2380,
  ylab:["log2 Fold Change (Male RT / Female RT)"],ylabX:[157]});
panel({id:"cp4",x0:1430,x1:2297,y0:1658,y1:2299,xd:[-0.0447,1.048],yd:[-11.27,16.25],ma:false,
  halo:tauMozHalo,cloud:tauMozCloud,grey:tauMozGrey,order:["green","red","blue"],
  pts:{red:tauMozRed,green:tauMozGreen,blue:tauMozBlue},ptsX:{red:tauMozRedX,green:tauMozGreenX,blue:tauMozBlueX},
  xt:tauTicks,xf:fmtTau,title:null,
  xlab:"tau index of tissue specificity (τ)",xlabX:1899,xlabY:2380,
  ylab:["log2 Fold Change","(Male Accessory glands + Male Testes / Female Ovary)"],ylabX:[1318,1350]});

// row labels
svg.append("text").attr("transform","translate(86,995) rotate(-90)").attr("text-anchor","middle")
  .attr("dy","0.35em").attr("font-size",33).attr("font-weight","bold").text("MA plot");
svg.append("text").attr("transform","translate(88,1938) rotate(-90)").attr("text-anchor","middle")
  .attr("dy","0.35em").attr("font-size",33).attr("font-weight","bold").text("tau index of tissue specificity (τ)");
</script></body></html>
